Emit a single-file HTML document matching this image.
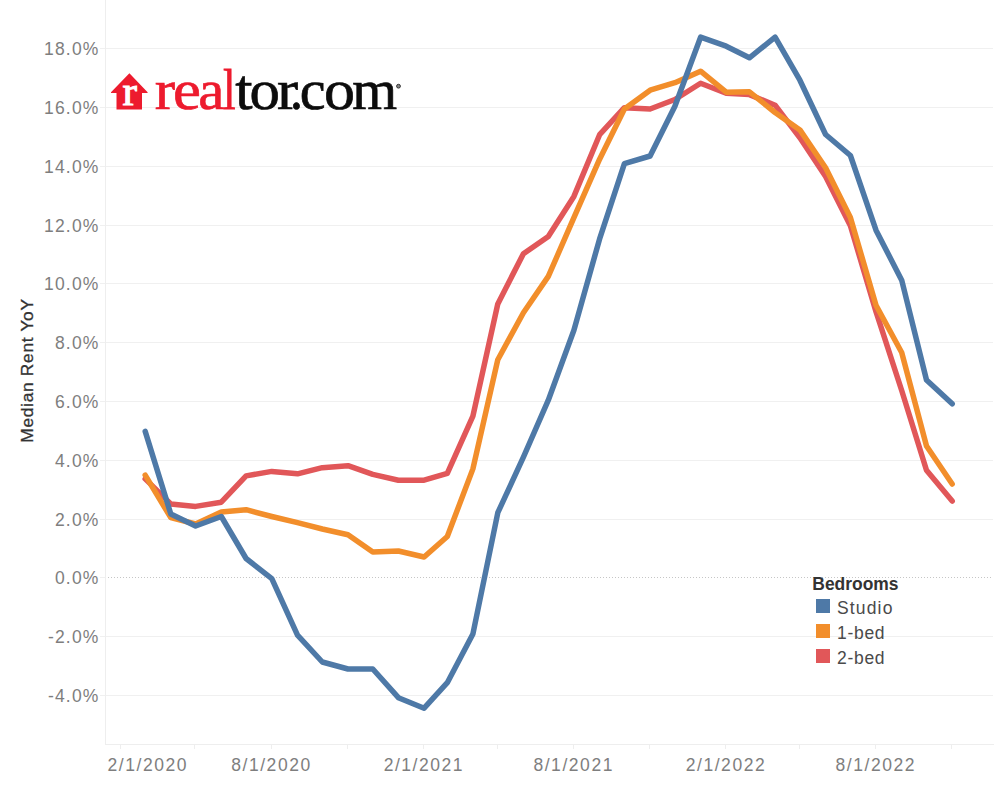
<!DOCTYPE html>
<html><head><meta charset="utf-8">
<style>
html,body{margin:0;padding:0;background:#fff;}
body{width:1000px;height:800px;overflow:hidden;font-family:"Liberation Sans",sans-serif;}
svg{display:block}
.ax{font-family:"Liberation Sans",sans-serif;font-size:17.5px;fill:#7e7e7e;letter-spacing:1.2px;}
.axx{letter-spacing:1.55px}
.lg{font-family:"Liberation Sans",sans-serif;font-size:17.5px;fill:#4a4a4a;letter-spacing:1.15px;}
.ln{fill:none;stroke-width:5.5;stroke-linejoin:round;stroke-linecap:round}
.logo{font-family:"Liberation Serif",serif;font-size:60px;}
</style></head><body>
<svg width="1000" height="800" viewBox="0 0 1000 800">
<rect width="1000" height="800" fill="#fff"/>
<!-- grid -->
<rect x="100" y="695" width="893" height="1" fill="#f0f0f0"/>
<rect x="100" y="636" width="893" height="1" fill="#f0f0f0"/>
<rect x="100" y="519" width="893" height="1" fill="#f0f0f0"/>
<rect x="100" y="460" width="893" height="1" fill="#f0f0f0"/>
<rect x="100" y="401" width="893" height="1" fill="#f0f0f0"/>
<rect x="100" y="342" width="893" height="1" fill="#f0f0f0"/>
<rect x="100" y="283" width="893" height="1" fill="#f0f0f0"/>
<rect x="100" y="225" width="893" height="1" fill="#f0f0f0"/>
<rect x="100" y="166" width="893" height="1" fill="#f0f0f0"/>
<rect x="100" y="107" width="893" height="1" fill="#f0f0f0"/>
<rect x="100" y="48" width="893" height="1" fill="#f0f0f0"/>
<rect x="100" y="577" width="6" height="1" fill="#f0f0f0"/>

<line x1="108" y1="577.5" x2="993" y2="577.5" stroke="#c6c6c6" stroke-width="1" stroke-dasharray="1 2" shape-rendering="crispEdges"/>
<!-- axes -->
<rect x="105" y="0" width="1" height="745" fill="#eeeeee"/>
<rect x="105" y="744" width="889" height="1" fill="#eeeeee"/>
<rect x="120" y="744" width="1" height="5" fill="#eeeeee"/>
<rect x="194" y="744" width="1" height="5" fill="#eeeeee"/>
<rect x="271" y="744" width="1" height="5" fill="#eeeeee"/>
<rect x="347" y="744" width="1" height="5" fill="#eeeeee"/>
<rect x="423" y="744" width="1" height="5" fill="#eeeeee"/>
<rect x="497" y="744" width="1" height="5" fill="#eeeeee"/>
<rect x="573" y="744" width="1" height="5" fill="#eeeeee"/>
<rect x="649" y="744" width="1" height="5" fill="#eeeeee"/>
<rect x="725" y="744" width="1" height="5" fill="#eeeeee"/>
<rect x="799" y="744" width="1" height="5" fill="#eeeeee"/>
<rect x="875" y="744" width="1" height="5" fill="#eeeeee"/>
<rect x="951" y="744" width="1" height="5" fill="#eeeeee"/>

<text x="99.6" y="701.8" text-anchor="end" class="ax">-4.0%</text>
<text x="99.6" y="642.8" text-anchor="end" class="ax">-2.0%</text>
<text x="99.6" y="583.8" text-anchor="end" class="ax">0.0%</text>
<text x="99.6" y="525.8" text-anchor="end" class="ax">2.0%</text>
<text x="99.6" y="466.8" text-anchor="end" class="ax">4.0%</text>
<text x="99.6" y="407.8" text-anchor="end" class="ax">6.0%</text>
<text x="99.6" y="348.8" text-anchor="end" class="ax">8.0%</text>
<text x="99.6" y="289.8" text-anchor="end" class="ax">10.0%</text>
<text x="99.6" y="231.8" text-anchor="end" class="ax">12.0%</text>
<text x="99.6" y="172.8" text-anchor="end" class="ax">14.0%</text>
<text x="99.6" y="113.8" text-anchor="end" class="ax">16.0%</text>
<text x="99.6" y="54.8" text-anchor="end" class="ax">18.0%</text>

<text x="107.5" y="770.8" text-anchor="start" class="ax axx">2/1/2020</text>
<text x="271.5" y="770.8" text-anchor="middle" class="ax axx">8/1/2020</text>
<text x="423.9" y="770.8" text-anchor="middle" class="ax axx">2/1/2021</text>
<text x="573.7" y="770.8" text-anchor="middle" class="ax axx">8/1/2021</text>
<text x="726.0" y="770.8" text-anchor="middle" class="ax axx">2/1/2022</text>
<text x="875.8" y="770.8" text-anchor="middle" class="ax axx">8/1/2022</text>

<!-- title -->
<text transform="translate(33.4,370.5) rotate(-90)" text-anchor="middle" font-size="17.3" fill="#333" style="font-family:'Liberation Sans',sans-serif;letter-spacing:0.72px" stroke="#333" stroke-width="0.3">Median Rent YoY</text>
<!-- logo -->
<g id="logo">
<path d="M129.4 73.3 L147.6 92.2 L147.6 93 L142 93 L142 109.4 L116.5 109.4 L116.5 93 L111 93 L111 92.2 Z" fill="#ed1b2e"/>
<text transform="translate(122.5,105.2) scale(1.1,1)" style="font-family:'Liberation Serif',serif;font-size:39.5px" fill="#fff" stroke="#fff" stroke-width="1">r</text>
<text transform="translate(154.63,109.0) scale(1.062,1)" font-size="57.6" fill="#ed1b2e" stroke="#ed1b2e" stroke-width="0.7" vector-effect="non-scaling-stroke" style="font-family:'Liberation Serif',serif">r</text>
<text transform="translate(172.89,109.0) scale(1.093,1)" font-size="57.6" fill="#ed1b2e" stroke="#ed1b2e" stroke-width="0.7" vector-effect="non-scaling-stroke" style="font-family:'Liberation Serif',serif">e</text>
<text transform="translate(198.28,109.0) scale(1.024,1)" font-size="57.6" fill="#ed1b2e" stroke="#ed1b2e" stroke-width="0.7" vector-effect="non-scaling-stroke" style="font-family:'Liberation Serif',serif">a</text>
<text transform="translate(222.94,109.0) scale(0.789,1)" font-size="57.6" fill="#ed1b2e" stroke="#ed1b2e" stroke-width="0.7" vector-effect="non-scaling-stroke" style="font-family:'Liberation Serif',serif">l</text>
<text transform="translate(235.24,109.0) scale(1.079,1)" font-size="57.6" fill="#0c0c0c" stroke="#0c0c0c" stroke-width="0.7" vector-effect="non-scaling-stroke" style="font-family:'Liberation Serif',serif">t</text>
<text transform="translate(249.53,109.0) scale(1.057,1)" font-size="57.6" fill="#0c0c0c" stroke="#0c0c0c" stroke-width="0.7" vector-effect="non-scaling-stroke" style="font-family:'Liberation Serif',serif">o</text>
<text transform="translate(277.08,109.0) scale(1.101,1)" font-size="57.6" fill="#0c0c0c" stroke="#0c0c0c" stroke-width="0.7" vector-effect="non-scaling-stroke" style="font-family:'Liberation Serif',serif">r</text>
<text transform="translate(289.84,109.0) scale(0.926,1)" font-size="57.6" fill="#0c0c0c" stroke="#0c0c0c" stroke-width="0.7" vector-effect="non-scaling-stroke" style="font-family:'Liberation Serif',serif">.</text>
<text transform="translate(299.64,109.0) scale(1.009,1)" font-size="57.6" fill="#0c0c0c" stroke="#0c0c0c" stroke-width="0.7" vector-effect="non-scaling-stroke" style="font-family:'Liberation Serif',serif">c</text>
<text transform="translate(323.99,109.0) scale(1.077,1)" font-size="57.6" fill="#0c0c0c" stroke="#0c0c0c" stroke-width="0.7" vector-effect="non-scaling-stroke" style="font-family:'Liberation Serif',serif">o</text>
<text transform="translate(352.14,109.0) scale(1.002,1)" font-size="57.6" fill="#0c0c0c" stroke="#0c0c0c" stroke-width="0.7" vector-effect="non-scaling-stroke" style="font-family:'Liberation Serif',serif">m</text>

<circle cx="398.5" cy="86.2" r="1.9" fill="#888" stroke="#333" stroke-width="1"/>
</g>
<!-- lines -->
<path class="ln" stroke="#e15759" d="M145.2,478.9 L170.8,503.9 L195.6,506.4 L221.3,502.2 L246.1,475.9 L271.8,471.4 L297.5,473.8 L322.3,467.7 L348.0,465.7 L372.8,474.4 L398.4,480.2 L424.1,480.2 L447.3,473.4 L472.9,416.2 L497.8,303.9 L523.4,253.7 L548.3,236.6 L573.9,196.4 L599.6,134.7 L624.4,107.7 L650.1,109.0 L674.9,99.5 L700.6,83.2 L726.2,93.2 L749.4,94.6 L775.1,105.2 L799.9,137.8 L825.6,176.4 L850.4,225.8 L876.0,311.7 L901.7,390.5 L926.5,470.2 L952.2,501.1"/>
<path class="ln" stroke="#f28e2b" d="M145.2,475.2 L170.8,517.7 L195.6,524.0 L221.3,511.9 L246.1,509.7 L271.8,516.5 L297.5,522.7 L322.3,529.0 L348.0,534.7 L372.8,552.0 L398.4,551.0 L424.1,557.0 L447.3,536.5 L472.9,468.9 L497.8,359.7 L523.4,312.7 L548.3,276.4 L573.9,217.7 L599.6,159.2 L624.4,109.0 L650.1,90.2 L674.9,82.7 L700.6,71.2 L726.2,92.2 L749.4,91.8 L775.1,112.5 L799.9,129.9 L825.6,167.7 L850.4,217.5 L876.0,305.2 L901.7,352.5 L926.5,446.0 L952.2,484.0"/>
<path class="ln" stroke="#4e79a7" d="M145.2,431.4 L170.8,514.0 L195.6,526.0 L221.3,516.5 L246.1,558.5 L271.8,578.7 L297.5,635.2 L322.3,662.0 L348.0,669.0 L372.8,669.0 L398.4,697.7 L424.1,708.2 L447.3,682.7 L472.9,634.0 L497.8,512.7 L523.4,457.2 L548.3,400.2 L573.9,330.2 L599.6,238.9 L624.4,163.7 L650.1,156.0 L674.9,106.2 L700.6,37.2 L726.2,46.2 L749.4,57.8 L775.1,37.2 L799.9,80.2 L825.6,134.5 L850.4,155.5 L876.0,230.2 L901.7,280.2 L926.5,380.0 L952.2,403.8"/>
<!-- legend -->
<text x="812.3" y="589.6" font-size="17.45" font-weight="bold" fill="#333" style="font-family:'Liberation Sans',sans-serif">Bedrooms</text>
<rect x="816" y="599" width="14" height="14" fill="#4e79a7"/>
<rect x="816" y="624" width="14" height="14" fill="#f28e2b"/>
<rect x="816" y="649" width="14" height="14" fill="#e15759"/>
<text x="837" y="613.6" class="lg">Studio</text>
<text x="837" y="638.6" class="lg" style="letter-spacing:0.7px">1-bed</text>
<text x="837" y="663.6" class="lg" style="letter-spacing:0.7px">2-bed</text>
</svg>
</body></html>
